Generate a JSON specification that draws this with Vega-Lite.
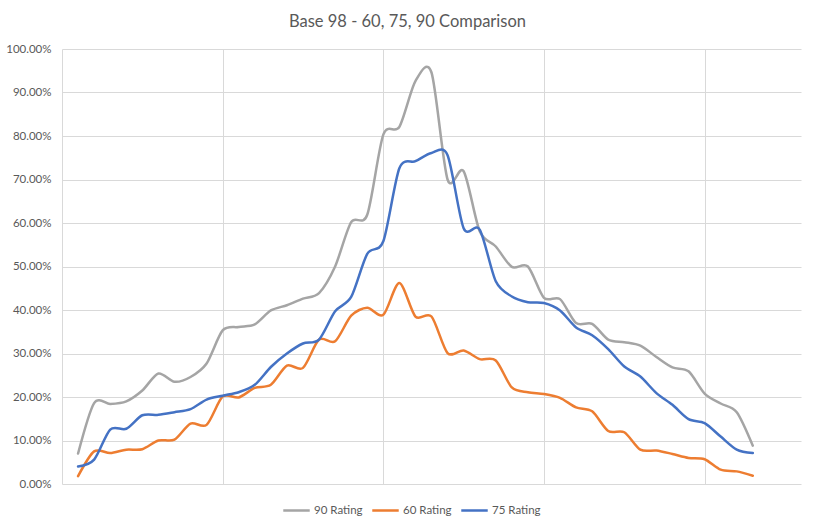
{
  "$schema": "https://vega.github.io/schema/vega-lite/v6.json",
  "width": 739,
  "height": 435,
  "autosize": {"type": "none"},
  "padding": {"left": 62, "top": 49, "right": 14, "bottom": 46},
  "background": "white",
  "title": {
    "text": "Base 98 - 60, 75, 90 Comparison",
    "font": "Lato",
    "fontSize": 16.5,
    "fontWeight": "normal",
    "color": "#595959",
    "anchor": "middle",
    "dx": -24,
    "offset": 13
  },
  "config": {
    "view": {"stroke": null},
    "font": "Lato"
  },
  "datasets": {
    "rows": [
      {"i":1,"s":"90 Rating","v":0.070},{"i":2,"s":"90 Rating","v":0.186},{"i":3,"s":"90 Rating","v":0.184},{"i":4,"s":"90 Rating","v":0.190},{"i":5,"s":"90 Rating","v":0.215},{"i":6,"s":"90 Rating","v":0.254},{"i":7,"s":"90 Rating","v":0.235},{"i":8,"s":"90 Rating","v":0.246},{"i":9,"s":"90 Rating","v":0.277},{"i":10,"s":"90 Rating","v":0.353},{"i":11,"s":"90 Rating","v":0.361},{"i":12,"s":"90 Rating","v":0.367},{"i":13,"s":"90 Rating","v":0.399},{"i":14,"s":"90 Rating","v":0.411},{"i":15,"s":"90 Rating","v":0.426},{"i":16,"s":"90 Rating","v":0.439},{"i":17,"s":"90 Rating","v":0.500},{"i":18,"s":"90 Rating","v":0.602},{"i":19,"s":"90 Rating","v":0.619},{"i":20,"s":"90 Rating","v":0.803},{"i":21,"s":"90 Rating","v":0.821},{"i":22,"s":"90 Rating","v":0.926},{"i":23,"s":"90 Rating","v":0.946},{"i":24,"s":"90 Rating","v":0.700},{"i":25,"s":"90 Rating","v":0.719},{"i":26,"s":"90 Rating","v":0.581},{"i":27,"s":"90 Rating","v":0.546},{"i":28,"s":"90 Rating","v":0.499},{"i":29,"s":"90 Rating","v":0.500},{"i":30,"s":"90 Rating","v":0.428},{"i":31,"s":"90 Rating","v":0.425},{"i":32,"s":"90 Rating","v":0.370},{"i":33,"s":"90 Rating","v":0.368},{"i":34,"s":"90 Rating","v":0.332},{"i":35,"s":"90 Rating","v":0.326},{"i":36,"s":"90 Rating","v":0.318},{"i":37,"s":"90 Rating","v":0.292},{"i":38,"s":"90 Rating","v":0.268},{"i":39,"s":"90 Rating","v":0.259},{"i":40,"s":"90 Rating","v":0.208},{"i":41,"s":"90 Rating","v":0.185},{"i":42,"s":"90 Rating","v":0.165},{"i":43,"s":"90 Rating","v":0.088},
      {"i":1,"s":"60 Rating","v":0.018},{"i":2,"s":"60 Rating","v":0.075},{"i":3,"s":"60 Rating","v":0.071},{"i":4,"s":"60 Rating","v":0.079},{"i":5,"s":"60 Rating","v":0.080},{"i":6,"s":"60 Rating","v":0.100},{"i":7,"s":"60 Rating","v":0.102},{"i":8,"s":"60 Rating","v":0.139},{"i":9,"s":"60 Rating","v":0.136},{"i":10,"s":"60 Rating","v":0.201},{"i":11,"s":"60 Rating","v":0.199},{"i":12,"s":"60 Rating","v":0.221},{"i":13,"s":"60 Rating","v":0.228},{"i":14,"s":"60 Rating","v":0.272},{"i":15,"s":"60 Rating","v":0.267},{"i":16,"s":"60 Rating","v":0.332},{"i":17,"s":"60 Rating","v":0.328},{"i":18,"s":"60 Rating","v":0.387},{"i":19,"s":"60 Rating","v":0.405},{"i":20,"s":"60 Rating","v":0.389},{"i":21,"s":"60 Rating","v":0.462},{"i":22,"s":"60 Rating","v":0.385},{"i":23,"s":"60 Rating","v":0.385},{"i":24,"s":"60 Rating","v":0.301},{"i":25,"s":"60 Rating","v":0.307},{"i":26,"s":"60 Rating","v":0.287},{"i":27,"s":"60 Rating","v":0.284},{"i":28,"s":"60 Rating","v":0.222},{"i":29,"s":"60 Rating","v":0.211},{"i":30,"s":"60 Rating","v":0.207},{"i":31,"s":"60 Rating","v":0.198},{"i":32,"s":"60 Rating","v":0.176},{"i":33,"s":"60 Rating","v":0.167},{"i":34,"s":"60 Rating","v":0.122},{"i":35,"s":"60 Rating","v":0.119},{"i":36,"s":"60 Rating","v":0.079},{"i":37,"s":"60 Rating","v":0.077},{"i":38,"s":"60 Rating","v":0.069},{"i":39,"s":"60 Rating","v":0.060},{"i":40,"s":"60 Rating","v":0.057},{"i":41,"s":"60 Rating","v":0.033},{"i":42,"s":"60 Rating","v":0.029},{"i":43,"s":"60 Rating","v":0.019},
      {"i":1,"s":"75 Rating","v":0.040},{"i":2,"s":"75 Rating","v":0.056},{"i":3,"s":"75 Rating","v":0.125},{"i":4,"s":"75 Rating","v":0.127},{"i":5,"s":"75 Rating","v":0.158},{"i":6,"s":"75 Rating","v":0.159},{"i":7,"s":"75 Rating","v":0.165},{"i":8,"s":"75 Rating","v":0.172},{"i":9,"s":"75 Rating","v":0.194},{"i":10,"s":"75 Rating","v":0.203},{"i":11,"s":"75 Rating","v":0.211},{"i":12,"s":"75 Rating","v":0.228},{"i":13,"s":"75 Rating","v":0.269},{"i":14,"s":"75 Rating","v":0.300},{"i":15,"s":"75 Rating","v":0.323},{"i":16,"s":"75 Rating","v":0.332},{"i":17,"s":"75 Rating","v":0.397},{"i":18,"s":"75 Rating","v":0.430},{"i":19,"s":"75 Rating","v":0.529},{"i":20,"s":"75 Rating","v":0.558},{"i":21,"s":"75 Rating","v":0.726},{"i":22,"s":"75 Rating","v":0.742},{"i":23,"s":"75 Rating","v":0.761},{"i":24,"s":"75 Rating","v":0.756},{"i":25,"s":"75 Rating","v":0.588},{"i":26,"s":"75 Rating","v":0.585},{"i":27,"s":"75 Rating","v":0.466},{"i":28,"s":"75 Rating","v":0.431},{"i":29,"s":"75 Rating","v":0.418},{"i":30,"s":"75 Rating","v":0.416},{"i":31,"s":"75 Rating","v":0.399},{"i":32,"s":"75 Rating","v":0.360},{"i":33,"s":"75 Rating","v":0.342},{"i":34,"s":"75 Rating","v":0.310},{"i":35,"s":"75 Rating","v":0.270},{"i":36,"s":"75 Rating","v":0.247},{"i":37,"s":"75 Rating","v":0.209},{"i":38,"s":"75 Rating","v":0.182},{"i":39,"s":"75 Rating","v":0.149},{"i":40,"s":"75 Rating","v":0.140},{"i":41,"s":"75 Rating","v":0.109},{"i":42,"s":"75 Rating","v":0.079},{"i":43,"s":"75 Rating","v":0.071}
    ]
  },
  "data": {"name": "rows"},
  "mark": {"type": "line", "interpolate": "cardinal", "tension": 0.15, "strokeWidth": 2.5, "strokeCap": "round", "strokeJoin": "round"},
  "encoding": {
    "x": {
      "field": "i",
      "type": "quantitative",
      "scale": {"domain": [0, 46], "nice": false, "zero": false},
      "axis": {
        "values": [0, 10, 20, 30, 40],
        "labels": false,
        "ticks": false,
        "domain": false,
        "title": null,
        "grid": true,
        "gridColor": "#D9D9D9",
        "gridWidth": 1
      }
    },
    "y": {
      "field": "v",
      "type": "quantitative",
      "scale": {"domain": [0, 1], "nice": false},
      "axis": {
        "values": [0, 0.1, 0.2, 0.3, 0.4, 0.5, 0.6, 0.7, 0.8, 0.9, 1.0],
        "format": ".2%",
        "title": null,
        "domain": false,
        "ticks": false,
        "labelPadding": 11,
        "labelFont": "Lato",
        "labelFontSize": 11.5,
        "labelColor": "#595959",
        "gridColor": "#D9D9D9",
        "gridWidth": 1
      }
    },
    "color": {
      "field": "s",
      "type": "nominal",
      "sort": ["90 Rating", "60 Rating", "75 Rating"],
      "scale": {"domain": ["90 Rating", "60 Rating", "75 Rating"], "range": ["#A5A5A5", "#ED7D31", "#4472C4"]},
      "legend": {
        "title": null,
        "orient": "none",
        "legendX": 220,
        "legendY": 447,
        "direction": "horizontal",
        "symbolType": "stroke",
        "symbolSize": 700,
        "symbolStrokeWidth": 2.5,
        "labelFont": "Lato",
        "labelFontSize": 11.5,
        "labelColor": "#595959",
        "labelOffset": 3,
        "columnPadding": 4
      }
    }
  }
}
